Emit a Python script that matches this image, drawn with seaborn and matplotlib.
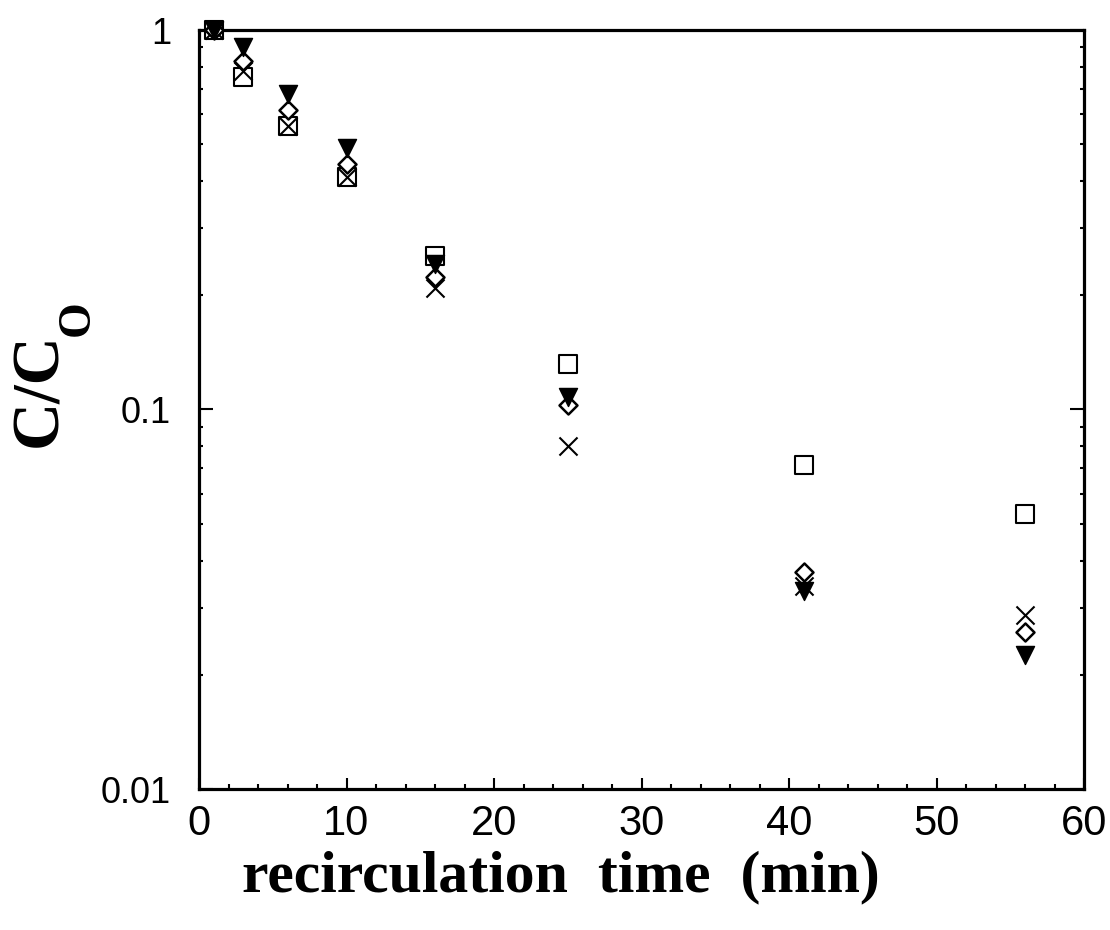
import pandas as pd
import seaborn as sns
import matplotlib.pyplot as plt
from matplotlib.ticker import MultipleLocator, LogLocator, NullFormatter

# data
time_min = [1, 3, 6, 10, 16, 25, 41, 56]
c_square = [1.0, 0.75, 0.56, 0.41, 0.254, 0.132, 0.0714, 0.0532]
c_cross = [1.0, 0.78, 0.56, 0.41, 0.209, 0.080, 0.0342, 0.0288]
c_diamond = [1.0, 0.83, 0.614, 0.443, 0.224, 0.103, 0.0372, 0.0259]
c_triangle = [1.0, 0.90, 0.68, 0.488, 0.242, 0.108, 0.0332, 0.0226]

x_ticks = [0, 10, 20, 30, 40, 50, 60]
y_ticks = [0.01, 0.1, 1]
y_tick_labels = ['0.01', '0.1', '1']

series_names = ['square', 'cross', 'diamond', 'triangle']
series_values = [c_square, c_cross, c_diamond, c_triangle]

df = pd.concat([pd.DataFrame({'time': time_min, 'ratio': v, 'series': n})
                for n, v in zip(series_names, series_values)], ignore_index=True)

sns.set_style('ticks')
plt.rcParams['font.family'] = ['Liberation Sans', 'DejaVu Sans']
plt.rcParams['text.color'] = 'black'
plt.rcParams['xtick.color'] = 'black'
plt.rcParams['ytick.color'] = 'black'

# marker style per series
styles = {
    'square': dict(marker='s', s=187, color='white', edgecolor='black', linewidth=1.5),
    'cross': dict(marker='x', s=169, color='black', linewidth=1.5),
    'diamond': dict(marker='D', s=84, color='white', edgecolor='black', linewidth=1.8),
    'triangle': dict(marker='v', s=169, color='black', edgecolor='black', linewidth=1.0),
}

fig = plt.figure(figsize=(11.1, 9.3), dpi=100)
ax = fig.add_axes([199/1110, 1 - 789/930, (1084 - 199)/1110, (789 - 30)/930])

for name in series_names:
    sns.scatterplot(data=df[df['series'] == name], x='time', y='ratio', ax=ax,
                    legend=False, clip_on=False, zorder=3, **styles[name])

ax.set_yscale('log')
ax.set_xlim(0, 60)
ax.set_ylim(0.01, 1)

ax.set_xticks(x_ticks)
ax.set_xticklabels([str(t) for t in x_ticks], fontsize=30, color='black')
ax.xaxis.set_minor_locator(MultipleLocator(2))
ax.set_yticks(y_ticks)
ax.set_yticklabels(y_tick_labels, fontsize=26, color='black')
ax.yaxis.set_minor_locator(LogLocator(base=10, subs=range(2, 10)))
ax.yaxis.set_minor_formatter(NullFormatter())

ax.tick_params(axis='x', which='both', direction='in', top=False, bottom=True, width=1.5)
ax.tick_params(axis='x', which='major', length=8, pad=11)
ax.tick_params(axis='x', which='minor', length=3.5)
ax.tick_params(axis='y', which='both', direction='in', left=True, right=True, width=1.5)
ax.tick_params(axis='y', which='major', length=10, pad=20)
ax.tick_params(axis='y', which='minor', length=3)

for sp in ax.spines.values():
    sp.set_linewidth(2.3)
    sp.set_color('black')
    sp.set_visible(True)

ax.set_xlabel('')
ax.set_ylabel('')

fig.text(561/1110, 1 - 877/930, 'recirculation  time  (min)', ha='center', va='center',
         fontsize=43, fontweight='bold', family='Liberation Serif', color='black')
# y label C/C with a lowered subscript O
fig.text(40/1110, 1 - 390/930, 'C/C', ha='center', va='center', rotation=90,
         fontsize=48, fontweight='bold', family='Liberation Serif', color='black')
fig.text(78/1110, 1 - 318/930, 'O', ha='center', va='center', rotation=90,
         fontsize=33, fontweight='bold', family='Liberation Serif', color='black')

fig.savefig('out.png', dpi=100, facecolor='white')
